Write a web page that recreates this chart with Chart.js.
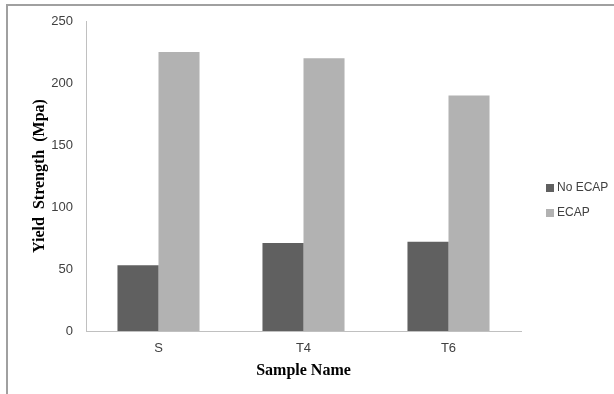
<!DOCTYPE html>
<html>
<head>
<meta charset="utf-8">
<script src="https://cdn.jsdelivr.net/npm/chart.js@4/dist/chart.umd.min.js"></script>
<style>
  html, body { margin: 0; padding: 0; background: #fff; }
  #wrap { position: relative; width: 614px; height: 394px; }
  #frame { position: absolute; left: 6px; top: 4px; right: -4px; bottom: -4px;
           border-left: 2px solid #a0a0a0; border-top: 2px solid #a0a0a0; pointer-events: none; }
  canvas { position: absolute; left: 0; top: 0; }
</style>
</head>
<body>
<div id="wrap">
  <canvas id="c" width="614" height="394"></canvas>
  <div id="frame"></div>
</div>
<script>
const categories = ['S', 'T4', 'T6'];
const seriesNames = ['No ECAP', 'ECAP'];
const noEcap = [53, 71, 72];
const ecap = [225, 220, 190];
const yTicks = [0, 50, 100, 150, 200, 250];
const colors = ['#606060', '#b2b2b2'];

const legendPlugin = {
  id: 'sideLegend',
  afterDraw(chart) {
    const ctx = chart.ctx;
    ctx.save();
    ctx.font = '12px "Liberation Sans", Arial, sans-serif';
    ctx.textBaseline = 'middle';
    ctx.textAlign = 'left';
    const ys = [188, 213];
    chart.data.datasets.forEach((ds, i) => {
      ctx.fillStyle = ds.backgroundColor;
      ctx.fillRect(546, ys[i] - 4, 8, 8);
      ctx.fillStyle = '#404040';
      ctx.fillText(ds.label, 557, ys[i]);
    });
    ctx.restore();
  }
};

new Chart(document.getElementById('c'), {
  type: 'bar',
  data: {
    labels: categories,
    datasets: [
      { label: seriesNames[0], data: noEcap, backgroundColor: colors[0] },
      { label: seriesNames[1], data: ecap, backgroundColor: colors[1] }
    ]
  },
  options: {
    responsive: false,
    animation: false,
    devicePixelRatio: 1,
    layout: { padding: { left: 0, top: 21, right: 93, bottom: 0 } },
    datasets: { bar: { barPercentage: 1.0, categoryPercentage: 0.566 } },
    plugins: { legend: { display: false }, tooltip: { enabled: false } },
    scales: {
      x: {
        grid: { display: false, drawTicks: false },
        border: { display: true, color: '#c0c0c0', width: 1 },
        ticks: { color: '#404040', font: { family: '"Liberation Sans", Arial, sans-serif', size: 13 }, padding: 10 },
        title: { display: true, text: 'Sample Name', color: '#000',
                 font: { family: '"Liberation Serif", "Times New Roman", serif', size: 16, weight: 'bold' },
                 padding: { top: 0, bottom: 14 } },
        afterFit(scale) { scale.height = 63; }
      },
      y: {
        min: 0, max: 250,
        grid: { display: false, drawTicks: false },
        border: { display: true, color: '#c0c0c0', width: 1 },
        afterBuildTicks(scale) { scale.ticks = yTicks.map(v => ({ value: v })); },
        ticks: { color: '#404040', font: { family: '"Liberation Sans", Arial, sans-serif', size: 13 }, padding: 13 },
        title: { display: true, text: 'Yield  Strength  (Mpa)', color: '#000',
                 font: { family: '"Liberation Serif", "Times New Roman", serif', size: 16, weight: 'bold' },
                 padding: { top: 30, bottom: 0 } },
        afterFit(scale) { scale.width = 86; }
      }
    }
  },
  plugins: [legendPlugin]
});
</script>
</body>
</html>
